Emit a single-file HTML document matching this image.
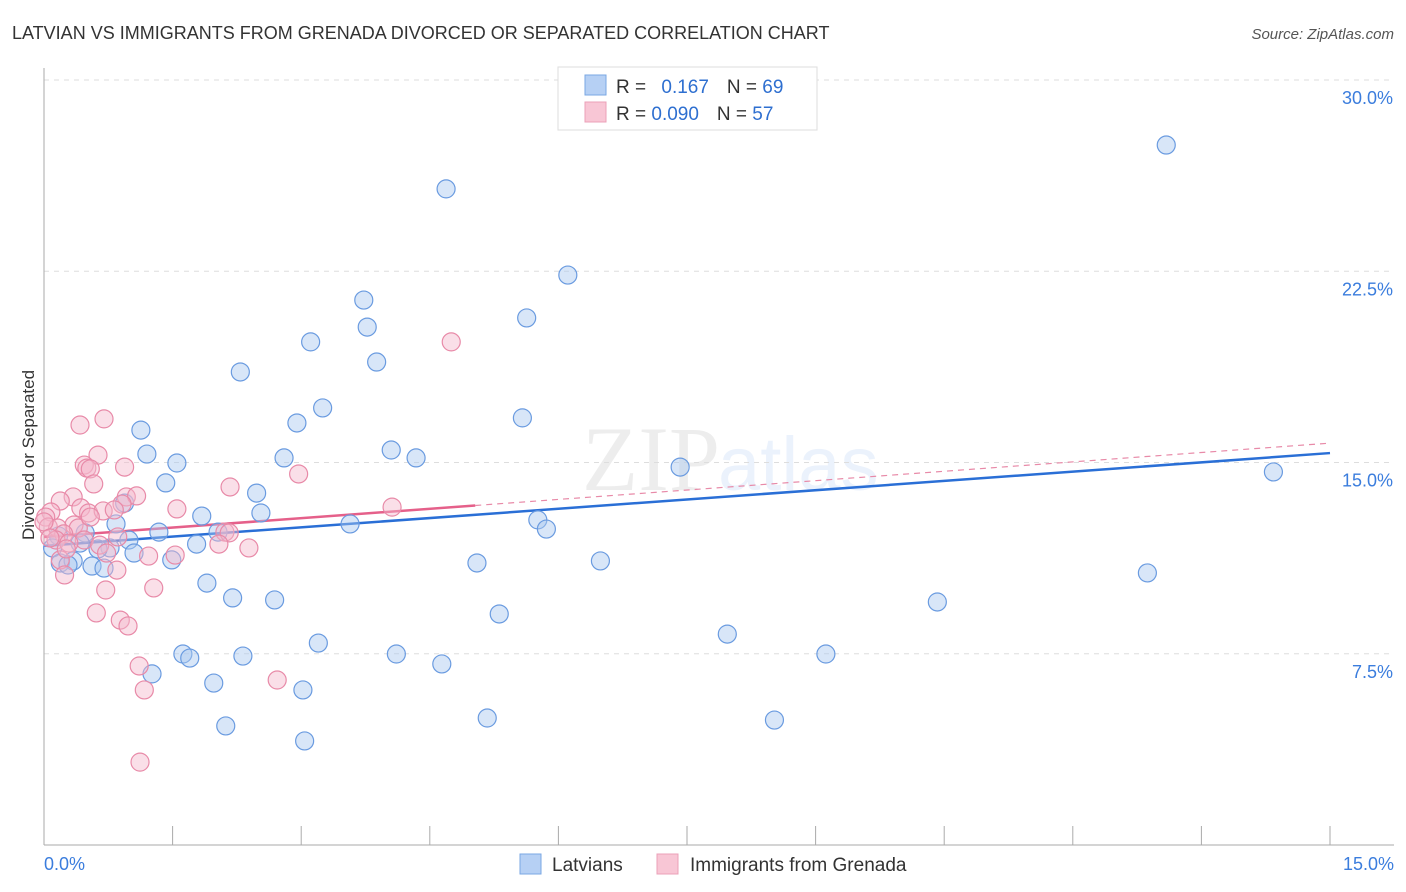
<!DOCTYPE html>
<html><head><meta charset="utf-8"><style>
body{margin:0;background:#fff;font-family:"Liberation Sans",sans-serif;}
svg{display:block}
</style></head><body>
<svg id="chart" width="1406" height="892" viewBox="0 0 1406 892">
<text x="12" y="39" font-size="18" fill="#333">LATVIAN VS IMMIGRANTS FROM GRENADA DIVORCED OR SEPARATED CORRELATION CHART</text>
<text x="1394" y="39" font-size="15" fill="#555" font-style="italic" text-anchor="end">Source: ZipAtlas.com</text>
<text x="720" y="490" font-size="92" fill="#000" fill-opacity="0.07" text-anchor="end" font-family="Liberation Serif,serif">ZIP</text>
<text x="718" y="490" font-size="76" fill="#3b7ddd" fill-opacity="0.1">atlas</text>
<g id="grid"></g>
<g id="axes"></g>
<g id="trend"></g>
<g id="points"></g>
<text transform="translate(34,455) rotate(-90)" font-size="17" fill="#333" text-anchor="middle">Divorced or Separated</text>
<g>
<rect x="558" y="67" width="259" height="63" fill="#fff" stroke="#ddd"/>
<rect x="585" y="75" width="21" height="20" fill="#b6d0f4" stroke="#7aa7e3"/>
<rect x="585" y="102" width="21" height="20" fill="#f8c6d5" stroke="#eba0b8"/>
<text x="616" y="93" font-size="19" fill="#333">R = <tspan fill="#2e6fd0" dx="10">0.167</tspan><tspan dx="18">N = </tspan><tspan fill="#2e6fd0">69</tspan></text>
<text x="616" y="120" font-size="19" fill="#333">R = <tspan fill="#2e6fd0">0.090</tspan><tspan dx="18">N = </tspan><tspan fill="#2e6fd0">57</tspan></text>
</g>
<g>
<rect x="520" y="854" width="21" height="20" fill="#b6d0f4" stroke="#7aa7e3"/>
<text x="552" y="871" font-size="19" fill="#333">Latvians</text>
<rect x="657" y="854" width="21" height="20" fill="#f8c6d5" stroke="#eba0b8"/>
<text x="690" y="871" font-size="19" fill="#333">Immigrants from Grenada</text>
</g>
</svg>
<script>
const xTicks=[0,1.5,3,4.5,6,7.5,9,10.5,12,13.5,15];
const yTicks=[7.5,15,22.5,30];
const yTickLabels=["7.5%","15.0%","22.5%","30.0%"];
const latviansX=[4.69,13.09,6.11,3.73,5.63,3.77,3.11,3.88,2.29,3.25,5.58,2.95,1.13,4.05,1.20,4.34,2.80,1.55,7.42,14.34,1.42,2.48,0.94,2.53,1.84,5.76,5.86,3.57,0.84,1.34,2.03,0.17,0.48,0.99,0.10,0.42,0.77,0.63,1.78,1.05,1.49,5.05,6.49,0.19,0.34,0.56,0.70,0.28,12.87,1.90,2.20,2.69,10.42,5.31,7.97,3.20,1.62,1.70,2.32,4.11,9.12,4.64,1.26,1.98,3.02,5.17,8.52,2.12,3.04];
const latviansY=[25.73,27.45,22.35,21.37,20.67,20.31,19.73,18.94,18.55,17.14,16.75,16.55,16.27,15.49,15.33,15.18,15.18,14.98,14.82,14.63,14.20,13.80,13.41,13.02,12.90,12.75,12.39,12.59,12.59,12.27,12.27,12.12,12.24,11.96,11.65,11.84,11.65,11.61,11.80,11.45,11.18,11.06,11.14,11.06,11.14,10.94,10.86,10.98,10.67,10.27,9.69,9.61,9.53,9.06,8.27,7.92,7.49,7.33,7.41,7.49,7.49,7.10,6.71,6.35,6.08,4.98,4.90,4.67,4.08];
const grenadaX=[4.75,0.70,0.42,0.63,0.47,0.50,0.54,0.94,2.97,0.58,2.17,0.34,0.19,0.96,1.08,0.91,1.55,4.06,0.43,0.52,0.69,0.08,0.02,0.82,0.35,0.40,0.05,0.16,2.11,2.16,0.23,0.14,0.47,0.65,0.86,0.29,2.39,2.04,1.22,1.53,0.73,0.19,0.85,0.24,1.28,0.72,0.61,0.89,0.98,2.72,1.11,1.17,1.12,0.00,0.07,0.26,0.54];
const grenadaY=[19.73,16.71,16.47,15.29,14.90,14.78,14.75,14.82,14.55,14.16,14.04,13.65,13.49,13.65,13.69,13.37,13.18,13.25,13.22,13.02,13.10,13.06,12.86,13.14,12.55,12.43,12.47,12.43,12.27,12.24,12.20,11.96,11.96,11.76,12.08,11.84,11.65,11.80,11.33,11.37,11.45,11.18,10.78,10.59,10.08,10.00,9.10,8.82,8.59,6.47,7.02,6.08,3.25,12.67,12.04,11.61,12.86];
const latviansTrend=[11.73,15.37];
const grenadaTrend=[12.08,15.76];
const grenadaSolidEnd=5.03;

const NS="http://www.w3.org/2000/svg";
const X0=44,X1=1330,Y0=845,PX=25.5;
function sx(v){return X0+v/15*(X1-X0);}
function sy(v){return Y0-v*PX;}
function mk(tag,attrs,parent){const e=document.createElementNS(NS,tag);for(const k in attrs)e.setAttribute(k,attrs[k]);parent.appendChild(e);return e;}
const grid=document.getElementById('grid'),axes=document.getElementById('axes'),trend=document.getElementById('trend'),pts=document.getElementById('points');
yTicks.forEach((t,i)=>{
  const l=mk('line',{x1:X0,x2:1394,y1:sy(t),y2:sy(t),stroke:'#ddd','stroke-dasharray':'5,5'},grid);
  
  
  const tx=mk('text',{x:1393,y:sy(t)+24,'font-size':18,fill:'#3b7ddd','text-anchor':'end'},grid);
  tx.textContent=yTickLabels[i];
  
  
});
const ya=mk('line',{x1:X0,x2:X0,y1:68,y2:Y0,stroke:'#aaa'},axes);


const xa=mk('line',{x1:X0,x2:1394,y1:Y0,y2:Y0,stroke:'#aaa'},axes);


xTicks.forEach(t=>{
  const l=mk('line',{x1:sx(t),x2:sx(t),y1:Y0,y2:Y0-19,stroke:'#aaa'},axes);
  
  
});
const xl0=mk('text',{x:44,y:870,'font-size':18,fill:'#3b7ddd'},axes);xl0.textContent='0.0%';


const xl1=mk('text',{x:1394,y:870,'font-size':18,fill:'#3b7ddd','text-anchor':'end'},axes);xl1.textContent='15.0%';



function tv(tr,x){return tr[0]+(tr[1]-tr[0])*x/15;}
latviansX.forEach((x,i)=>{
  const c=mk('circle',{cx:sx(x),cy:sy(latviansY[i]),r:9,fill:'#a9c8f0','fill-opacity':0.45,stroke:'#6a9be0','stroke-width':1.2},pts);
  
  
});
grenadaX.forEach((x,i)=>{
  const c=mk('circle',{cx:sx(x),cy:sy(grenadaY[i]),r:9,fill:'#f5b8cb','fill-opacity':0.45,stroke:'#e88aa8','stroke-width':1.2},pts);
  
  
});
const gd=mk('line',{x1:sx(grenadaSolidEnd),y1:sy(tv(grenadaTrend,grenadaSolidEnd)),x2:sx(15),y2:sy(grenadaTrend[1]),stroke:'#e88aa8','stroke-width':1.2,'stroke-dasharray':'6,5'},trend);


const bl=mk('line',{x1:sx(0),y1:sy(latviansTrend[0]),x2:sx(15),y2:sy(latviansTrend[1]),stroke:'#2a6fd6','stroke-width':2.5},trend);


const gl=mk('line',{x1:sx(0),y1:sy(grenadaTrend[0]),x2:sx(grenadaSolidEnd),y2:sy(tv(grenadaTrend,grenadaSolidEnd)),stroke:'#e5608a','stroke-width':2.5},trend);


</script>
</body></html>
